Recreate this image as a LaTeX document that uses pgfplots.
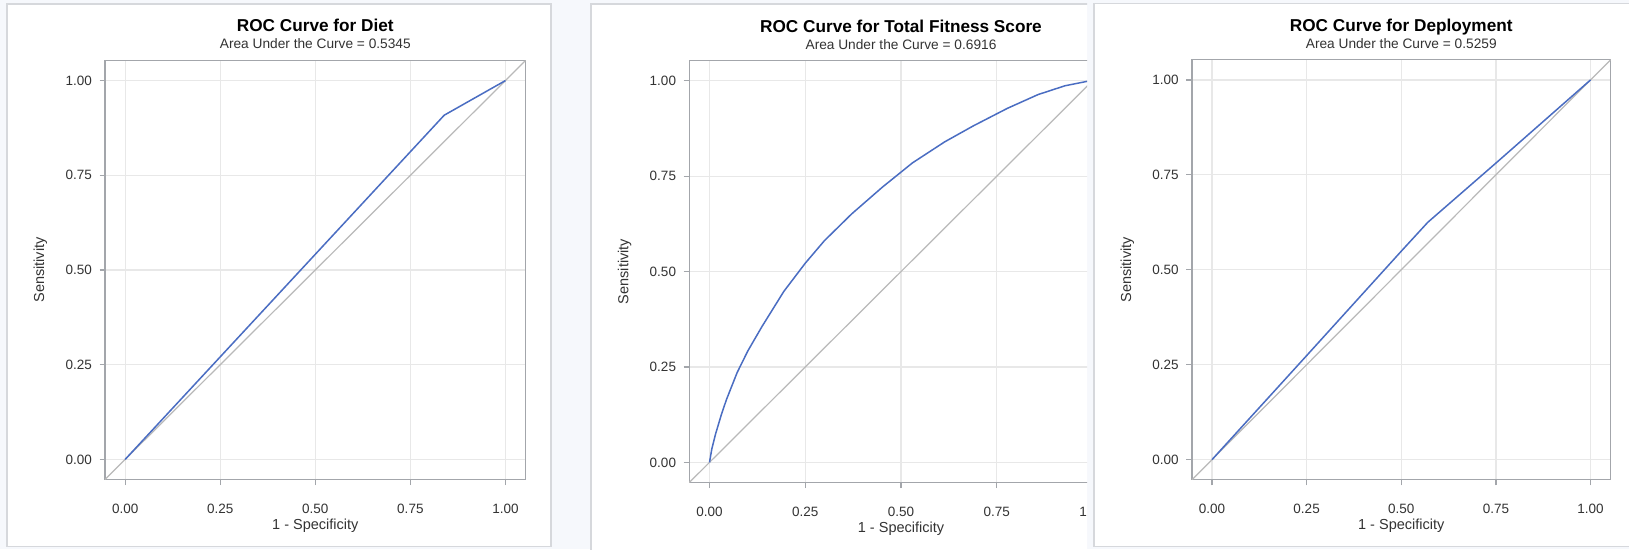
\documentclass[border=0pt]{standalone}
\usepackage{fontspec}
\setmainfont{Liberation Sans}
\usepackage{pgfplots}
\pgfplotsset{compat=1.18}
\definecolor{bg}{HTML}{F6F8FC}
\definecolor{panelborder}{HTML}{D6D8DC}
\definecolor{framec}{HTML}{A3A6AB}
\definecolor{gridc}{HTML}{E8E8E8}
\definecolor{roc}{HTML}{4A6DC2}
\definecolor{diag}{HTML}{B9B9B9}
\definecolor{txt}{HTML}{333333}

\pgfplotsset{rocax/.style={
  scale only axis,
  xmin=-0.053, xmax=1.053, ymin=-0.053, ymax=1.053,
  xtick={0,0.25,0.5,0.75,1}, ytick={0,0.25,0.5,0.75,1},
  xticklabels={0.00,0.25,0.50,0.75,1.00},
  yticklabels={0.00,0.25,0.50,0.75,1.00},
  grid=major, major grid style={gridc, line width=1.2pt},
  axis line style={framec, line width=1.2pt},
  tick align=outside, major tick length=5.5pt,
  tick style={framec, line width=1.2pt},
  xtick pos=left, ytick pos=left,
  ticklabel style={font=\fontsize{13.5}{16}\selectfont, text=txt},
  xticklabel style={anchor=base, inner sep=0pt, yshift=-28pt},
  yticklabel style={anchor=east, inner sep=0pt, xshift=-7.5pt},
  clip=true,
}}

\begin{document}
\begin{tikzpicture}
\useasboundingbox (0pt,0pt) rectangle (1629pt,549pt);
\fill[bg] (0pt,0pt) rectangle (1629pt,549pt);

% ---------------- Panel 1 ----------------
\draw[panelborder, line width=1.3pt, fill=white] (7pt,2.3pt) rectangle (551pt,545pt);
\begin{axis}[rocax, name=ax1, at={(105pt,69.5pt)}, anchor=south west,
  width=420.6pt, height=419pt]
\addplot[diag, line width=1.2pt] coordinates {(-0.1,-0.1) (1.1,1.1)};
\addplot[roc, line width=1.5pt] coordinates {(0,0) (0.839,0.9086) (1,1)};
\end{axis}
\node[anchor=base, font=\bfseries\fontsize{17.2}{20}\selectfont] at ([yshift=28.5pt]ax1.north) {ROC Curve for Diet};
\node[anchor=base, font=\fontsize{13.7}{16}\selectfont, text=txt] at ([yshift=11.5pt]ax1.north) {Area Under the Curve = 0.5345};
\node[anchor=base, font=\fontsize{14.5}{17}\selectfont, text=txt] at ([yshift=-50pt]ax1.south) {1 - Specificity};
\node[rotate=90, font=\fontsize{14.5}{17}\selectfont, text=txt] at ([xshift=-64.5pt]ax1.west) {Sensitivity};

% ---------------- Panel 2 (clipped at right) ----------------
\begin{scope}
\clip (0pt,0pt) rectangle (1087pt,549pt);
\draw[panelborder, line width=1.3pt, fill=white] (591pt,-10pt) rectangle (1120pt,545pt);
\begin{axis}[rocax, name=ax2, at={(689.2pt,66.4pt)}, anchor=south west,
  width=423.6pt, height=422pt]
\addplot[diag, line width=1.2pt] coordinates {(-0.1,-0.1) (1.1,1.1)};
\addplot[roc, line width=1.5pt] coordinates {
(0,0) (0.006,0.035) (0.016,0.075) (0.03,0.122) (0.044,0.164) (0.072,0.235)
(0.10,0.292) (0.137,0.356)
(0.194,0.448) (0.25,0.522) (0.30,0.581) (0.371,0.651) (0.451,0.721)
(0.53,0.785) (0.614,0.84) (0.689,0.882) (0.778,0.928) (0.858,0.964)
(0.928,0.987) (0.988,0.999) (1,1)};
\end{axis}
\node[anchor=base, font=\bfseries\fontsize{17.2}{20}\selectfont] at ([yshift=28pt]ax2.north) {ROC Curve for Total Fitness Score};
\node[anchor=base, font=\fontsize{13.7}{16}\selectfont, text=txt] at ([yshift=11pt]ax2.north) {Area Under the Curve = 0.6916};
\node[anchor=base, font=\fontsize{14.5}{17}\selectfont, text=txt] at ([yshift=-50pt]ax2.south) {1 - Specificity};
\node[rotate=90, font=\fontsize{14.5}{17}\selectfont, text=txt] at ([xshift=-64.5pt]ax2.west) {Sensitivity};
\end{scope}

% ---------------- Panel 3 ----------------
\draw[panelborder, line width=1.3pt, fill=white] (1094pt,2.3pt) rectangle (1640pt,545.7pt);
\begin{axis}[rocax, name=ax3, at={(1191.9pt,69.2pt)}, anchor=south west,
  width=418.7pt, height=420pt]
\addplot[diag, line width=1.2pt] coordinates {(-0.1,-0.1) (1.1,1.1)};
\addplot[roc, line width=1.5pt] coordinates {(0,0) (0.25,0.274) (0.5,0.549) (0.57,0.625) (0.75,0.781) (1,1)};
\end{axis}
\node[anchor=base, font=\bfseries\fontsize{17.2}{20}\selectfont] at ([yshift=28.5pt]ax3.north) {ROC Curve for Deployment};
\node[anchor=base, font=\fontsize{13.7}{16}\selectfont, text=txt] at ([yshift=11.5pt]ax3.north) {Area Under the Curve = 0.5259};
\node[anchor=base, font=\fontsize{14.5}{17}\selectfont, text=txt] at ([yshift=-50pt]ax3.south) {1 - Specificity};
\node[rotate=90, font=\fontsize{14.5}{17}\selectfont, text=txt] at ([xshift=-64.5pt]ax3.west) {Sensitivity};
\end{tikzpicture}
\end{document}
